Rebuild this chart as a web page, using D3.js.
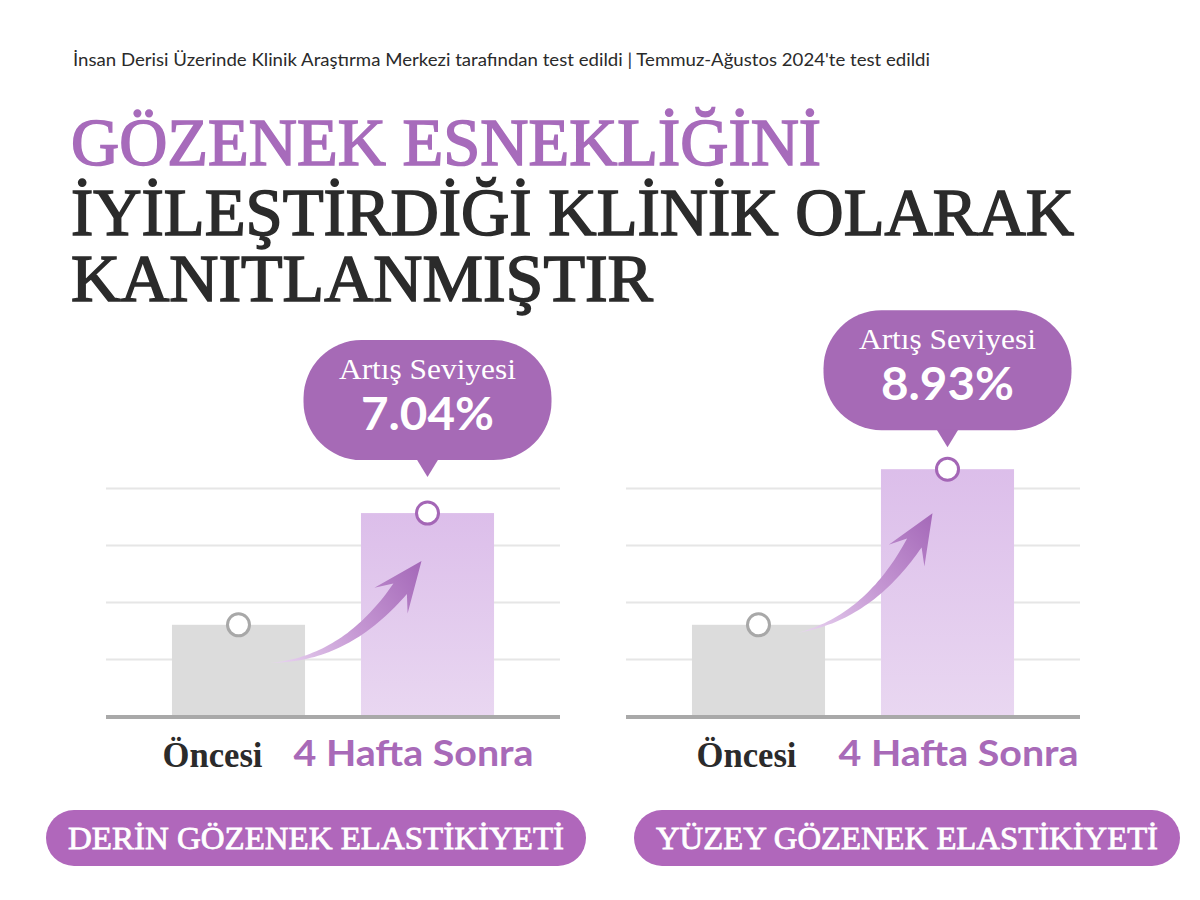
<!DOCTYPE html>
<html><head><meta charset="utf-8">
<script src="https://cdn.jsdelivr.net/npm/d3@7"></script>
<style>body{margin:0;background:#fff}svg{display:block}</style>
</head><body><svg id="c" width="1200" height="900"></svg>
<script>
// ---------- data ----------
const headerText = "İnsan Derisi Üzerinde Klinik Araştırma Merkezi tarafından test edildi | Temmuz-Ağustos 2024'te test edildi";
const titleLines = ["GÖZENEK ESNEKLİĞİNİ", "İYİLEŞTİRDİĞİ KLİNİK OLARAK", "KANITLANMIŞTIR"];
const categories = ["Öncesi", "4 Hafta Sonra"];
const panelNames = ["DERİN GÖZENEK ELASTİKİYETİ", "YÜZEY GÖZENEK ELASTİKİYETİ"];
const beforeValues = [1.6, 1.6];
const afterValues = [3.56, 4.33];
const increaseLabels = ["7.04%", "8.93%"];
const bubbleCaption = "Artış Seviyesi";
const gridTicks = [1, 2, 3, 4];

// ---------- layout / style ----------
const PURPLE = "#a76bbb", DARK = "#2b2b2b";
const panels = [
  {x0: 106, x1: 560, bubbleGap: 53, tail: [32, 38], tip: [-6, 48], dir: [0.61, -0.79], labelDx: [-26, -14], pillX: 46, pillW: 540, textW: 496},
  {x0: 626, x1: 1080, bubbleGap: 39, tail: [39, 8], tip: [-15, 44], dir: [0.52, -0.85], labelDx: [-12, 11], pillX: 634, pillW: 546, textW: 502}
];
const y = d3.scaleLinear().domain([0, 4]).range([716, 488]);

const svg = d3.select("#c");
const defs = svg.append("defs");
const bg = defs.append("linearGradient").attr("id", "barGrad").attr("x1", 0).attr("y1", 0).attr("x2", 0).attr("y2", 1);
bg.append("stop").attr("offset", 0).attr("stop-color", "#dcbeea");
bg.append("stop").attr("offset", 1).attr("stop-color", "#e9d7f1");

// header
svg.append("text").attr("x", 73).attr("y", 66)
  .attr("font-family", "Lato, 'Noto Sans', sans-serif").attr("font-size", 17).attr("fill", "#2a2a2a")
  .attr("textLength", 857).attr("lengthAdjust", "spacingAndGlyphs").text(headerText);

// title
const titleY = [165, 235, 301], titleW = [750, 1003, 582];
titleLines.forEach((t, i) => {
  const col = i === 0 ? PURPLE : DARK;
  svg.append("text").attr("x", 71).attr("y", titleY[i])
    .attr("font-family", "'Liberation Serif', 'DejaVu Serif', serif")
    .attr("font-size", 67).attr("fill", col).attr("stroke", col).attr("stroke-width", 1.6)
    .attr("textLength", titleW[i]).attr("lengthAdjust", "spacingAndGlyphs").text(t);
});

function arrowPath(tail, tip, dir, L, wing, shaftW) {
  const base = [tip[0] - dir[0] * L, tip[1] - dir[1] * L];
  const neck = [tip[0] - dir[0] * L * 0.7, tip[1] - dir[1] * L * 0.7];
  const dist = Math.hypot(base[0] - tail[0], base[1] - tail[1]);
  const ctrl = [base[0] - dir[0] * dist * 0.55, base[1] - dir[1] * dist * 0.55];
  const n = 40, left = [], right = [];
  for (let i = 0; i <= n; i++) {
    const t = i / n, mt = 1 - t;
    const p = [mt * mt * tail[0] + 2 * mt * t * ctrl[0] + t * t * neck[0],
               mt * mt * tail[1] + 2 * mt * t * ctrl[1] + t * t * neck[1]];
    let tg = [2 * mt * (ctrl[0] - tail[0]) + 2 * t * (neck[0] - ctrl[0]),
              2 * mt * (ctrl[1] - tail[1]) + 2 * t * (neck[1] - ctrl[1])];
    const len = Math.hypot(tg[0], tg[1]); tg = [tg[0] / len, tg[1] / len];
    const nm = [-tg[1], tg[0]];
    const w = shaftW * Math.pow(t, 1.1);
    left.push([p[0] + nm[0] * w, p[1] + nm[1] * w]);
    right.push([p[0] - nm[0] * w, p[1] - nm[1] * w]);
  }
  const nm = [-dir[1], dir[0]];
  const wl = [base[0] + nm[0] * wing, base[1] + nm[1] * wing];
  const wr = [base[0] - nm[0] * wing, base[1] - nm[1] * wing];
  const pts = [...left, wl, tip, wr, ...right.reverse()];
  return "M" + pts.map(p => p[0].toFixed(1) + "," + p[1].toFixed(1)).join("L") + "Z";
}

panels.forEach((P, i) => {
  const g = svg.append("g");
  const x = d3.scaleBand().domain(categories).range([P.x0, P.x1]).paddingInner(0.296).paddingOuter(0.349);
  const vals = [beforeValues[i], afterValues[i]];
  const cx = c => x(c) + x.bandwidth() / 2;

  // gridlines
  g.append("g").attr("transform", `translate(${P.x0},0)`)
    .call(d3.axisLeft(y).tickValues(gridTicks).tickSize(-(P.x1 - P.x0)).tickFormat(""))
    .call(a => a.select(".domain").remove())
    .call(a => a.selectAll(".tick line").attr("stroke", "#e6e6e6").attr("stroke-width", 2));

  // bars
  g.selectAll("rect.bar").data(categories).join("rect").attr("class", "bar")
    .attr("x", d => x(d)).attr("width", x.bandwidth())
    .attr("y", (d, j) => y(vals[j])).attr("height", (d, j) => y(0) - y(vals[j]))
    .attr("fill", (d, j) => j === 0 ? "#dcdcdc" : "url(#barGrad)");

  // baseline
  g.append("line").attr("x1", P.x0).attr("x2", P.x1).attr("y1", y(0) + 1).attr("y2", y(0) + 1)
    .attr("stroke", "#a9a9a9").attr("stroke-width", 4);

  // arrow
  const c0 = categories[0], c1 = categories[1];
  const tail = [cx(c0) + P.tail[0], y(vals[0]) + P.tail[1]];
  const tip = [cx(c1) + P.tip[0], y(vals[1]) + P.tip[1]];
  const ag = defs.append("linearGradient").attr("id", "arrowGrad" + i).attr("gradientUnits", "userSpaceOnUse")
    .attr("x1", tail[0]).attr("y1", tail[1]).attr("x2", tip[0]).attr("y2", tip[1]);
  ag.append("stop").attr("offset", 0).attr("stop-color", "#ead6f2");
  ag.append("stop").attr("offset", 0.5).attr("stop-color", "#c597d3");
  ag.append("stop").attr("offset", 1).attr("stop-color", "#a468b8");
  g.append("path").attr("d", arrowPath(tail, tip, P.dir, 50, 21, 8.5)).attr("fill", `url(#arrowGrad${i})`);

  // circles
  g.selectAll("circle").data(categories).join("circle")
    .attr("cx", d => cx(d)).attr("cy", (d, j) => y(vals[j])).attr("r", 11)
    .attr("fill", "#fff").attr("stroke", (d, j) => j === 0 ? "#a8a8a8" : "#a466b6").attr("stroke-width", 3);

  // bubble
  const bx = cx(c1), by = y(vals[1]) - P.bubbleGap; // bottom of bubble
  const bw = 248, bh = 120;
  g.append("rect").attr("x", bx - bw / 2).attr("y", by - bh).attr("width", bw).attr("height", bh)
    .attr("rx", 58).attr("ry", 58).attr("fill", "#a66ab6");
  g.append("path").attr("d", `M${bx - 11},${by - 1}L${bx + 11},${by - 1}L${bx},${by + 17}Z`).attr("fill", "#a66ab6");
  g.append("text").attr("x", bx).attr("y", by - 81).attr("text-anchor", "middle")
    .attr("font-family", "'Liberation Serif', serif").attr("font-size", 29).attr("fill", "#fff")
    .attr("textLength", 177).attr("lengthAdjust", "spacingAndGlyphs").text(bubbleCaption);
  g.append("text").attr("x", bx).attr("y", by - 30).attr("text-anchor", "middle")
    .attr("font-family", "Lato, 'Open Sans', sans-serif").attr("font-weight", "bold").attr("font-size", 46).attr("fill", "#fff")
    .attr("textLength", 133).attr("lengthAdjust", "spacingAndGlyphs").text(increaseLabels[i]);

  // category labels
  g.append("text").attr("x", cx(c0) + P.labelDx[0]).attr("y", 767).attr("text-anchor", "middle")
    .attr("font-family", "'Liberation Serif', serif").attr("font-weight", "bold").attr("font-size", 35).attr("fill", DARK)
    .attr("textLength", 100).attr("lengthAdjust", "spacingAndGlyphs").text(c0);
  g.append("text").attr("x", cx(c1) + P.labelDx[1]).attr("y", 766).attr("text-anchor", "middle")
    .attr("font-family", "Lato, 'Open Sans', sans-serif").attr("font-weight", "bold").attr("font-size", 36).attr("fill", "#a86ab8")
    .attr("textLength", 240).attr("lengthAdjust", "spacingAndGlyphs").text(c1);

  // bottom pill
  g.append("rect").attr("x", P.pillX).attr("y", 810).attr("width", P.pillW).attr("height", 56)
    .attr("rx", 28).attr("fill", "#b067bb");
  g.append("text").attr("x", P.pillX + P.pillW / 2).attr("y", 849).attr("text-anchor", "middle")
    .attr("font-family", "'Liberation Serif', serif").attr("font-size", 32).attr("fill", "#fff")
    .attr("stroke", "#fff").attr("stroke-width", 0.8)
    .attr("textLength", P.textW).attr("lengthAdjust", "spacingAndGlyphs").text(panelNames[i]);
});
</script></body></html>
